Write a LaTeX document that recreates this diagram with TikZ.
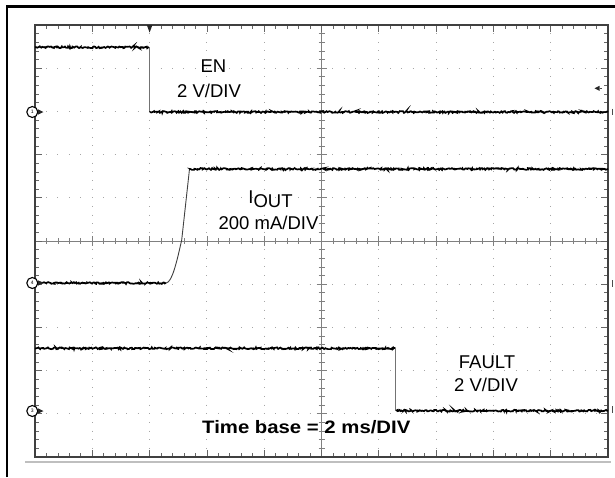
\documentclass[tikz,border=0pt]{standalone}
\usepackage{fontspec}
\setmainfont{Liberation Sans}
\newfontfamily\tbfont[FakeStretch=1.13]{Liberation Sans}
\usetikzlibrary{decorations.pathmorphing}
\begin{document}
\begin{tikzpicture}[x=1pt,y=-1pt,
  trace/.style={line width=1.7pt, black, decorate, decoration={random steps, segment length=1pt, amplitude=0.9pt}},
  edgeline/.style={line width=0.7pt, black!55},
  plotframe/.style={line width=1.4pt, black!75},
  tickline/.style={line width=0.7pt, black!60},
  cline/.style={line width=0.7pt, black!50},
  gdot/.style={line width=1.1pt, black!35},
  lbl/.style={font=\fontsize{18.5}{20}\selectfont, inner sep=0pt, anchor=base},
  chm/.style={circle, draw, line width=1.1pt, minimum size=11pt, inner sep=0pt, fill=white, font=\fontsize{5}{5}\selectfont},
  markfill/.style={fill=black!85}]
\useasboundingbox (0,0) rectangle (615,477);
\pgfmathsetseed{7}
% outer frame
\draw[line width=2.4pt, line join=miter] (7,477) -- (7,6.5) -- (615,6.5);
% light line below plot
\draw[line width=1.5pt, black!25] (25,461.8) -- (611,461.8);
% grid dots
\foreach \i in {1,2,3,4,6,7,8,9}
  \draw[gdot, dash pattern=on 1pt off 7.64pt, dash phase=0.5pt] ({35+\i*57.3},25) -- ({35+\i*57.3},457);
\foreach \j in {1,2,3,4,6,7,8,9}
  \draw[gdot, dash pattern=on 1pt off 10.46pt, dash phase=0.5pt] (35,{25+\j*43.2}) -- (608,{25+\j*43.2});
% centre axes
\draw[cline] (321.5,25) -- (321.5,457);
\draw[cline] (35,241) -- (608,241);
\foreach \k in {1,...,49}{
  \pgfmathsetmacro\tl{ifthenelse(mod(\k,5)==0,5,3)}
  \draw[cline] ({35+\k*11.46},{241-\tl}) -- ++(0,{2*\tl});
  \draw[cline] ({321.5-\tl},{25+\k*8.64}) -- ++({2*\tl},0);
}
% frame ticks
\foreach \k in {1,...,49}{
  \pgfmathsetmacro\tl{ifthenelse(mod(\k,5)==0,7,4)}
  \draw[tickline] ({35+\k*11.46},25) -- ++(0,\tl);
  \draw[tickline] ({35+\k*11.46},457) -- ++(0,-\tl);
  \draw[tickline] (35,{25+\k*8.64}) -- ++(\tl,0);
  \draw[tickline] (608,{25+\k*8.64}) -- ++(-\tl,0);
}
\draw[plotframe] (35,25) rectangle (608,457);
% trigger markers
\fill[markfill] (146.8,25) -- (152.4,25) -- (149.6,32.5) -- cycle;
\fill[markfill] (594.5,88.3) -- (599.5,85.8) -- (599.5,90.8) -- cycle;
\draw[line width=0.8pt, black!70] (599.5,88.3) -- (602,88.3);
% EN trace
\draw[trace] (35,47.3) -- (149,47.3);
\draw[edgeline] (149.3,47.3) -- (149.3,112);
\draw[trace] (149.5,112) -- (608,112);
% IOUT trace
\draw[trace] (35,283) -- (166,283);
\draw[line width=0.9pt, black!75] (166,283) .. controls (172,282.5) and (176.5,263) .. (181.7,240) -- (189.5,169);
\draw[trace] (189.5,169) -- (608,169);
% FAULT trace
\draw[trace] (35,348.3) -- (395.5,348.3);
\draw[edgeline] (395.7,348.3) -- (395.7,410.7);
\draw[trace] (396,410.7) -- (608,410.7);
% channel markers
\node[chm] (ch1) at (32.3,112) {1};
\node[chm] (ch4) at (32.3,283) {4};
\node[chm] (ch3) at (32.3,411) {3};
\fill[markfill] (38,109.3) -- (43.5,112) -- (38,114.7) -- cycle;
\fill[markfill] (38,280.3) -- (43.5,283) -- (38,285.7) -- cycle;
\fill[markfill] (38,408.3) -- (43.5,411) -- (38,413.7) -- cycle;
% right-hand level marks
\draw[line width=1pt, black!70] (612,108.5) -- (612,115);
\draw[line width=1pt, black!70] (612,280) -- (612,286.5);
\draw[line width=1pt, black!70] (612,406) -- (612,412.5);
% labels
\node[lbl] (en) at (213.5,72.7) {EN};
\node[lbl] (env) at (209,97.7) {2 V/DIV};
\node[lbl] (iout) at (270.5,203.3) {I\raisebox{-4.5pt}{OUT}};
\node[lbl] (ioutv) at (268.5,229) {200 mA/DIV};
\node[lbl] (fault) at (487,368.3) {FAULT};
\node[lbl] (faultv) at (486,391.7) {2 V/DIV};
\node[lbl, font=\tbfont\bfseries\fontsize{18}{20}\selectfont, anchor=base west] (tb) at (202,433.3) {Time base = 2 ms/DIV};
\end{tikzpicture}
\end{document}
